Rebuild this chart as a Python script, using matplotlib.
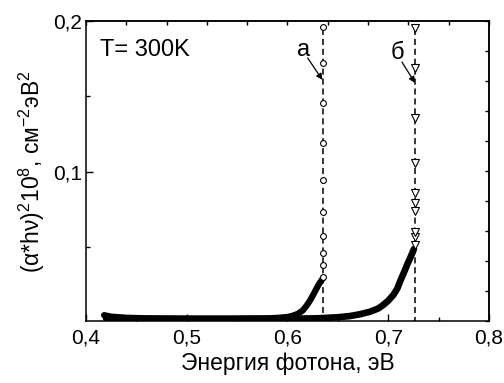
import numpy as np
import matplotlib
matplotlib.use("Agg")
import matplotlib.pyplot as plt
from matplotlib.ticker import FuncFormatter, MultipleLocator, FixedLocator

plt.rcParams['font.family'] = ['Liberation Sans', 'DejaVu Sans']
plt.rcParams['mathtext.fontset'] = 'custom'
plt.rcParams['mathtext.rm'] = 'Liberation Sans'
plt.rcParams['mathtext.default'] = 'regular'

# curve "а": dense part (overlapping markers) and the vertical sparse part
a_x = [0.418, 0.425, 0.44, 0.46, 0.48, 0.50, 0.52, 0.54, 0.56, 0.58, 0.59, 0.60,
       0.605, 0.61, 0.615, 0.619, 0.622, 0.625, 0.628, 0.631, 0.634, 0.6355]
a_y = [0.0052, 0.0042, 0.0035, 0.0031, 0.0030, 0.0029, 0.0029, 0.0029, 0.0030, 0.0031,
       0.0034, 0.0040, 0.0048, 0.0060, 0.0082, 0.0115, 0.0145, 0.0180, 0.0218, 0.0255,
       0.0285, 0.0300]
edge_a = 0.6355
a_top_y = [0.0307, 0.0384, 0.0461, 0.0576, 0.0737, 0.0947, 0.119, 0.1456, 0.172, 0.196]

# curve "б"
b_x = [0.42, 0.45, 0.50, 0.55, 0.60, 0.63, 0.65, 0.662, 0.672, 0.682, 0.690, 0.695,
       0.700, 0.705, 0.709, 0.7117, 0.714, 0.7166, 0.719, 0.7216, 0.724, 0.7255]
b_y = [0.0030, 0.0028, 0.0027, 0.0027, 0.0028, 0.0031, 0.0038, 0.0046, 0.0058, 0.0075,
       0.0096, 0.0119, 0.0148, 0.0185, 0.0228, 0.0274, 0.0310, 0.0350, 0.0390, 0.0428,
       0.0465, 0.0490]
edge_b = 0.7267
b_top_y = [0.0517, 0.0570, 0.0605, 0.0744, 0.0797, 0.0863, 0.1058, 0.1356, 0.1687, 0.1956]

fig = plt.figure(figsize=(5.04, 3.83), dpi=100)
ax = fig.add_axes([0.1706, 0.1606, 0.7996, 0.7846])

# dense regions look like a thick black band
ax.plot(a_x, a_y, color='black', lw=4.5, solid_capstyle='round', solid_joinstyle='round')
ax.plot(b_x, b_y, color='black', lw=4.8, solid_capstyle='round', solid_joinstyle='round')

# dashed vertical lines at the edges
ax.vlines([edge_a], 0, max(a_top_y), colors='black', linestyles=(0, (4, 2.5)), lw=1.1)
ax.vlines([edge_b], 0, max(b_top_y), colors='black', linestyles=(0, (4, 2.5)), lw=1.1)

ax.plot([edge_a] * len(a_top_y), a_top_y, ls='none', marker='o', ms=4.2,
        mfc='white', mec='black', mew=0.8)
ax.plot([edge_b] * len(b_top_y), b_top_y, ls='none', marker='v', ms=5.5,
        mfc='white', mec='black', mew=0.8)

ax.set_xlim(0.4, 0.8)
ax.set_ylim(0.001, 0.2)

comma = FuncFormatter(lambda v, p: ('%g' % v).replace('.', ','))
ax.xaxis.set_major_locator(MultipleLocator(0.1))
ax.xaxis.set_minor_locator(MultipleLocator(0.05))
ax.yaxis.set_major_locator(FixedLocator([0.1, 0.2]))
ax.yaxis.set_minor_locator(FixedLocator([0.05, 0.15]))
ax.xaxis.set_major_formatter(comma)
ax.yaxis.set_major_formatter(comma)
ax.tick_params(which='both', direction='in', labelsize=15, width=1)
ax.tick_params(which='major', length=5)
ax.tick_params(which='minor', length=3)
ax.tick_params(axis='x', pad=5)
ax.tick_params(axis='y', pad=3)

# top and right axes: 10 unlabeled intervals
top = ax.secondary_xaxis('top')
top.set_xticks(np.linspace(0.4, 0.8, 11))
top.tick_params(direction='in', length=3, width=1, labeltop=False)
right = ax.secondary_yaxis('right')
right.set_yticks(np.linspace(0.001, 0.2, 11))
right.tick_params(direction='in', length=3, width=1, labelright=False)

for s in list(ax.spines.values()) + [top.spines['top'], right.spines['right']]:
    s.set_linewidth(1.1)

ax.set_xlabel('Энергия фотона, эВ', fontsize=16.5, labelpad=3)
ax.set_ylabel('(α*hν)$^2$10$^8$, см$^{-2}$эВ$^2$', fontsize=16.5, labelpad=4)

ax.text(0.035, 0.903, 'T= 300K', transform=ax.transAxes, fontsize=17, va='center')

ax.text(0.6157, 0.1808, 'а', fontsize=17, ha='center', va='center')
ax.text(0.709, 0.1786, 'б', fontsize=17, ha='center', va='center')
ax.annotate('', xy=(0.6347, 0.161), xytext=(0.620, 0.1755),
            arrowprops=dict(arrowstyle='-|>', color='black', lw=0.9,
                            mutation_scale=9, shrinkA=0, shrinkB=0))
ax.annotate('', xy=(0.7266, 0.159), xytext=(0.7136, 0.1728),
            arrowprops=dict(arrowstyle='-|>', color='black', lw=0.9,
                            mutation_scale=9, shrinkA=0, shrinkB=0))

fig.savefig('out.png', dpi=100)
